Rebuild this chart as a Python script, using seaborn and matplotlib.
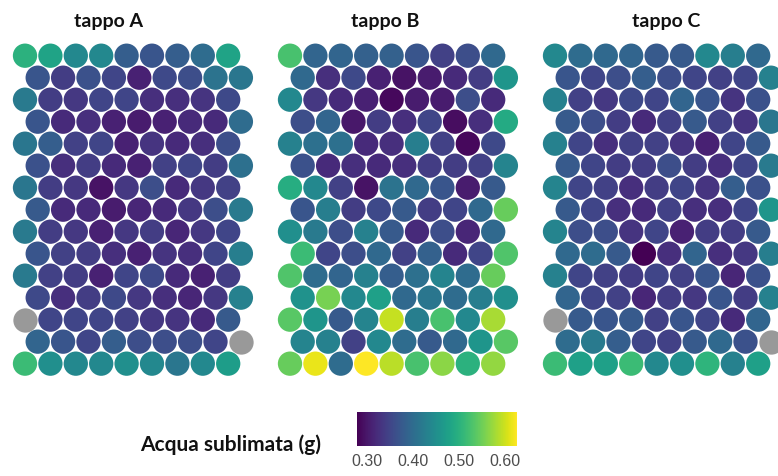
import numpy as np
import pandas as pd
import matplotlib
matplotlib.use("Agg")
import matplotlib.pyplot as plt
import seaborn as sns
from matplotlib.colors import Normalize
from matplotlib.cm import ScalarMappable

nan = np.nan

titles = ["tappo A", "tappo B", "tappo C"]
colorbar_title = "Acqua sublimata (g)"
colorbar_ticks = [0.30, 0.40, 0.50, 0.60]
value_range = (0.278, 0.626)

tappo_A = [
    [0.50, 0.48, 0.44, 0.44, 0.38, 0.37, 0.38, 0.40, 0.48],
    [0.37, 0.34, 0.365, 0.35, 0.31, 0.355, 0.36, 0.41, 0.415],
    [0.42, 0.34, 0.335, 0.35, 0.35, 0.325, 0.325, 0.33, 0.355],
    [0.37, 0.32, 0.325, 0.31, 0.305, 0.31, 0.32, 0.32, 0.40],
    [0.415, 0.38, 0.345, 0.35, 0.31, 0.33, 0.32, 0.325, 0.36],
    [0.365, 0.325, 0.34, 0.32, 0.31, 0.345, 0.35, 0.34, 0.405],
    [0.415, 0.34, 0.335, 0.295, 0.335, 0.36, 0.32, 0.335, 0.345],
    [0.375, 0.32, 0.32, 0.305, 0.315, 0.32, 0.335, 0.36, 0.42],
    [0.42, 0.34, 0.335, 0.31, 0.335, 0.34, 0.315, 0.335, 0.35],
    [0.37, 0.345, 0.34, 0.325, 0.31, 0.33, 0.325, 0.35, 0.425],
    [0.42, 0.345, 0.34, 0.31, 0.35, 0.355, 0.32, 0.31, 0.34],
    [0.355, 0.325, 0.34, 0.355, 0.335, 0.325, 0.315, 0.335, 0.43],
    [nan, 0.35, 0.35, 0.35, 0.345, 0.335, 0.33, 0.32, 0.375],
    [0.39, 0.37, 0.35, 0.38, 0.36, 0.36, 0.36, 0.35, nan],
    [0.515, 0.45, 0.44, 0.44, 0.45, 0.44, 0.415, 0.44, 0.47],
]

tappo_B = [
    [0.525, 0.39, 0.39, 0.385, 0.385, 0.37, 0.345, 0.36, 0.395],
    [0.395, 0.325, 0.355, 0.31, 0.295, 0.305, 0.32, 0.34, 0.46],
    [0.44, 0.335, 0.32, 0.31, 0.285, 0.305, 0.305, 0.36, 0.32],
    [0.36, 0.39, 0.30, 0.34, 0.325, 0.35, 0.29, 0.325, 0.49],
    [0.43, 0.405, 0.405, 0.32, 0.325, 0.425, 0.345, 0.285, 0.355],
    [0.365, 0.32, 0.325, 0.32, 0.325, 0.34, 0.34, 0.345, 0.435],
    [0.495, 0.44, 0.345, 0.295, 0.41, 0.395, 0.37, 0.305, 0.375],
    [0.37, 0.425, 0.34, 0.355, 0.375, 0.34, 0.35, 0.395, 0.545],
    [0.45, 0.42, 0.36, 0.43, 0.375, 0.32, 0.36, 0.315, 0.395],
    [0.515, 0.35, 0.36, 0.395, 0.345, 0.385, 0.32, 0.35, 0.53],
    [0.53, 0.40, 0.39, 0.43, 0.38, 0.405, 0.435, 0.40, 0.545],
    [0.455, 0.555, 0.44, 0.475, 0.395, 0.415, 0.40, 0.425, 0.45],
    [0.535, 0.46, 0.375, 0.435, 0.595, 0.425, 0.525, 0.44, 0.58],
    [0.435, 0.43, 0.345, 0.44, 0.40, 0.375, 0.395, 0.46, 0.535],
    [0.545, 0.615, 0.40, 0.626, 0.59, 0.525, 0.565, 0.50, 0.57],
]

tappo_C = [
    [0.44, 0.40, 0.395, 0.39, 0.375, 0.375, 0.44, 0.425, 0.395],
    [0.37, 0.35, 0.36, 0.38, 0.36, 0.35, 0.345, 0.35, 0.43],
    [0.43, 0.345, 0.335, 0.355, 0.35, 0.39, 0.37, 0.33, 0.365],
    [0.375, 0.36, 0.34, 0.32, 0.345, 0.375, 0.345, 0.33, 0.415],
    [0.43, 0.35, 0.325, 0.345, 0.345, 0.33, 0.31, 0.35, 0.375],
    [0.375, 0.35, 0.34, 0.34, 0.36, 0.34, 0.325, 0.35, 0.42],
    [0.435, 0.35, 0.345, 0.325, 0.34, 0.35, 0.33, 0.38, 0.365],
    [0.375, 0.35, 0.325, 0.32, 0.345, 0.325, 0.325, 0.35, 0.46],
    [0.435, 0.36, 0.36, 0.33, 0.35, 0.31, 0.34, 0.34, 0.375],
    [0.395, 0.40, 0.375, 0.278, 0.325, 0.39, 0.325, 0.335, 0.425],
    [0.43, 0.35, 0.345, 0.34, 0.35, 0.345, 0.37, 0.315, 0.365],
    [0.39, 0.35, 0.345, 0.315, 0.34, 0.335, 0.37, 0.34, 0.43],
    [nan, 0.375, 0.37, 0.375, 0.345, 0.37, 0.35, 0.32, 0.39],
    [0.40, 0.42, 0.38, 0.35, 0.345, 0.375, 0.395, 0.365, nan],
    [0.515, 0.475, 0.475, 0.515, 0.44, 0.45, 0.505, 0.43, 0.475],
]

sns.set_style("white")
plt.rcParams["font.family"] = ["Lato", "DejaVu Sans"]

W, H = 778, 477
fig = plt.figure(figsize=(W / 100, H / 100), dpi=100)


def px_axes(left, top, width, height):
    return fig.add_axes([left / W, 1 - (top + height) / H, width / W, height / H])


U = 25.4                      # pixel spacing between neighbouring circles
ROWF = np.sqrt(3) / 2         # hex row spacing in units
Y0 = 56.7                     # pixel y of the first row centre
panel_x0 = [25.0, 290.0, 555.0]
title_x = [108, 385, 666]
norm = Normalize(*value_range)
S = (24.3 * 72 / 100) ** 2

for vals, x0, title, tx in zip([tappo_A, tappo_B, tappo_C], panel_x0, titles, title_x):
    arr = np.array(vals, dtype=float)
    nrow, ncol = arr.shape
    rr, cc = np.meshgrid(np.arange(nrow), np.arange(ncol), indexing="ij")
    df = pd.DataFrame({
        "x": (cc + 0.5 * (rr % 2)).ravel(),
        "y": (rr * ROWF).ravel(),
        "v": arr.ravel(),
    })
    ymax = (nrow - 1) * ROWF + 0.5
    ax = px_axes(x0 - U / 2, Y0 - U / 2, (ncol + 0.5) * U, (ymax + 0.5) * U)
    sns.scatterplot(data=df[df.v.notna()], x="x", y="y", hue="v", palette="viridis",
                    hue_norm=norm, s=S, linewidth=0, legend=False, ax=ax)
    sns.scatterplot(data=df[df.v.isna()], x="x", y="y", color="#999999",
                    s=S, linewidth=0, legend=False, ax=ax)
    ax.set_xlim(-0.5, ncol)
    ax.set_ylim(ymax, -0.5)
    ax.axis("off")
    fig.text(tx / W, 1 - 21 / H, title, ha="center", va="center",
             fontweight="bold", fontsize=14, color="#111111")

cax = px_axes(357, 413, 160, 34)
cb = fig.colorbar(ScalarMappable(norm=norm, cmap="viridis"), cax=cax,
                  orientation="horizontal", ticks=colorbar_ticks)
cb.outline.set_visible(False)
cax.set_xticklabels([f"{t:.2f}" for t in colorbar_ticks], family="Liberation Sans")
cax.tick_params(axis="x", direction="in", length=4, width=0.8, color="white",
                labelcolor="#4d4d4d", labelsize=11.5, top=True, bottom=True, pad=5)

fig.text(231 / W, 1 - 445 / H, colorbar_title, ha="center", va="center",
         fontweight="bold", fontsize=15, color="#111111")

fig.savefig("out.png", dpi=100)
